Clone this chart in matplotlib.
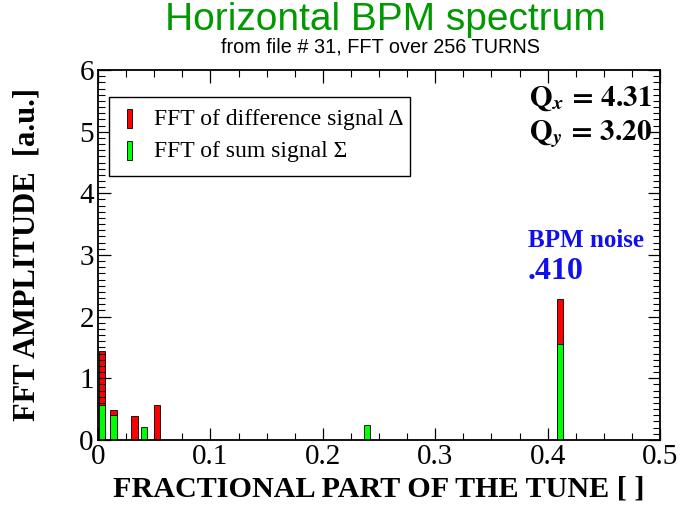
import numpy as np
import matplotlib.pyplot as plt
from matplotlib.patches import Rectangle
from matplotlib.ticker import MultipleLocator

plt.rcParams['font.family'] = ['Liberation Serif', 'DejaVu Serif']
plt.rcParams['mathtext.fontset'] = 'stix'

# Spectrum values
diff_tune = np.array([0.0037, 0.0136, 0.0326, 0.0525, 0.411])
diff_amp = np.array([1.44, 0.49, 0.39, 0.57, 2.28])
sum_tune = np.array([0.0037, 0.0136, 0.041, 0.2395, 0.411])
sum_amp = np.array([0.57, 0.40, 0.21, 0.24, 1.56])

legend_labels = ['FFT of difference signal Δ', 'FFT of sum signal Σ']
qx = 4.31
qy = 3.20
noise_tune = 0.410

red = '#ff0000'
green = '#00ff00'
blue = '#1010ee'

fig = plt.figure(figsize=(6.84, 5.14), dpi=100)
ax = fig.add_axes([0.1433, 0.144, 0.8217, 0.7198])

w = 0.0058
ax.bar(diff_tune, diff_amp, width=w, color=red, edgecolor='black', linewidth=0.6, zorder=1)
ax.bar(sum_tune, sum_amp, width=w, color=green, edgecolor='black', linewidth=0.6, zorder=2)

ax.set_xlim(0, 0.5)
ax.set_ylim(0, 6)
ax.xaxis.set_major_locator(MultipleLocator(0.1))
ax.xaxis.set_minor_locator(MultipleLocator(0.025))
ax.yaxis.set_major_locator(MultipleLocator(1))
ax.yaxis.set_minor_locator(MultipleLocator(0.1))
ax.set_xticks(np.arange(0, 0.51, 0.1))
ax.set_xticklabels(['0', '0.1', '0.2', '0.3', '0.4', '0.5'])
ax.tick_params(which='both', direction='in', top=True, right=True, zorder=5)
ax.tick_params(which='major', length=9, width=0.9, labelsize=21, pad=3)
ax.tick_params(which='minor', length=5, width=0.8)
for s in ax.spines.values():
    s.set_linewidth(1.3)
    s.set_zorder(6)

ax.set_xlabel('FRACTIONAL PART OF THE TUNE [ ]', fontsize=21.7, fontweight='bold', labelpad=4)
ax.set_ylabel('FFT AMPLITUDE  [a.u.]', fontsize=22, fontweight='bold', labelpad=27)

# legend box drawn by hand to match the original layout
ax.add_patch(Rectangle((0.0196, 0.7135), 0.535, 0.2135, transform=ax.transAxes,
                       facecolor='white', edgecolor='black', linewidth=1.0, zorder=7))
for i, (c, lab) in enumerate(zip([red, green], legend_labels)):
    yc = 0.866 - i * 0.086
    ax.add_patch(Rectangle((0.0516, yc - 0.024), 0.0095, 0.052, transform=ax.transAxes,
                           facecolor=c, edgecolor='black', linewidth=0.6, zorder=8))
    ax.text(0.0996, yc, lab, transform=ax.transAxes, fontsize=17, ha='left', va='center', zorder=8)

ax.text(0.985, 0.922, r'$\mathbf{Q}_{\mathbfit{x}}\,\mathbf{=}\,\mathbf{%.2f}$' % qx,
        transform=ax.transAxes, ha='right', va='center', fontsize=21)
ax.text(0.985, 0.826, r'$\mathbf{Q}_{\mathbfit{y}}\,\mathbf{=}\,\mathbf{%.2f}$' % qy,
        transform=ax.transAxes, ha='right', va='center', fontsize=21)

ax.text(0.3826, 3.24, 'BPM noise', color=blue, fontsize=18, fontweight='bold', ha='left', va='center')
ax.text(0.3826, 2.74, ('%.3f' % noise_tune)[1:], color=blue, fontsize=23, fontweight='bold',
        ha='left', va='center')

fig.text(0.563, 0.962, 'Horizontal BPM spectrum', color='#009900', fontsize=28,
         family='Liberation Sans', ha='center', va='center')
fig.text(0.557, 0.908, 'from file # 31, FFT over 256 TURNS', color='black', fontsize=14.3,
         family='Liberation Sans', ha='center', va='center')

fig.savefig('out.png', dpi=100)
